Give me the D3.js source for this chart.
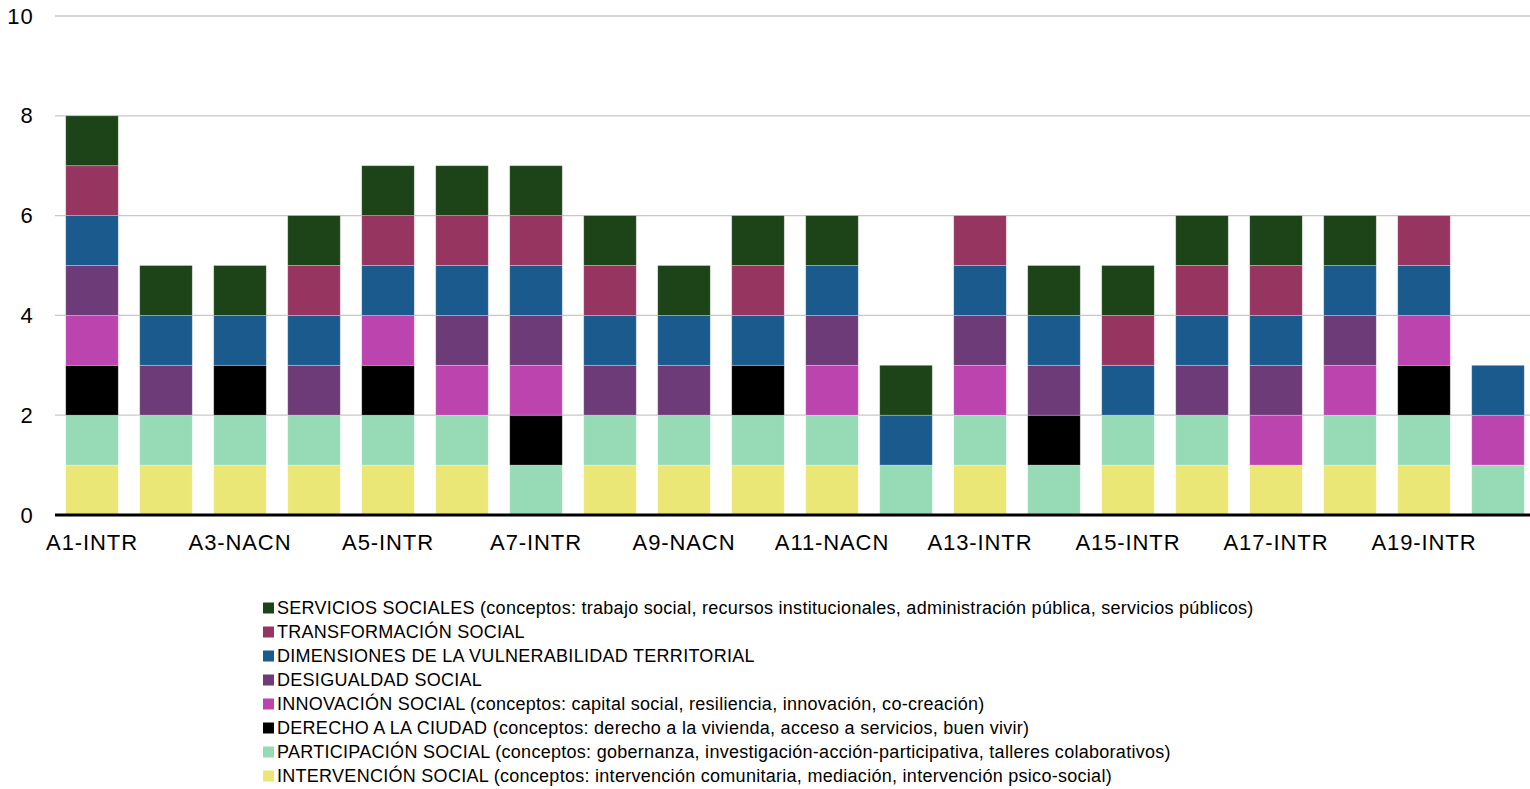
<!DOCTYPE html>
<html><head><meta charset="utf-8">
<script src="https://cdn.jsdelivr.net/npm/d3@7"></script>
<style>body{margin:0;background:#fff;}svg{display:block;font-family:"Liberation Sans",Arial,sans-serif;}</style>
</head><body><svg id="c" width="1530" height="789"></svg>
<script>
const categories = ["A1-INTR","A2-INTR","A3-NACN","A4-INTR","A5-INTR","A6-INTR","A7-INTR","A8-INTR","A9-NACN","A10-INTR","A11-NACN","A12-INTR","A13-INTR","A14-INTR","A15-INTR","A16-INTR","A17-INTR","A18-INTR","A19-INTR","A20-INTR"];
const seriesNames = [
  "INTERVENCIÓN SOCIAL (conceptos: intervención comunitaria, mediación, intervención psico-social)",
  "PARTICIPACIÓN SOCIAL (conceptos: gobernanza, investigación-acción-participativa, talleres colaborativos)",
  "DERECHO A LA CIUDAD (conceptos: derecho a la vivienda, acceso a servicios, buen vivir)",
  "INNOVACIÓN SOCIAL (conceptos: capital social, resiliencia, innovación, co-creación)",
  "DESIGUALDAD SOCIAL",
  "DIMENSIONES DE LA VULNERABILIDAD TERRITORIAL",
  "TRANSFORMACIÓN SOCIAL",
  "SERVICIOS SOCIALES (conceptos: trabajo social, recursos institucionales, administración pública, servicios públicos)"
];
const colors = ["#ebe776","#96dbb5","#000000","#bc44af","#6d3b78","#1b5a8c","#963660","#1c4418"];
const intervencion   = [1,1,1,1,1,1,0,1,1,1,1,0,1,0,1,1,1,1,1,0];
const participacion  = [1,1,1,1,1,1,1,1,1,1,1,1,1,1,1,1,0,1,1,1];
const derecho        = [1,0,1,0,1,0,1,0,0,1,0,0,0,1,0,0,0,0,1,0];
const innovacion     = [1,0,0,0,1,1,1,0,0,0,1,0,1,0,0,0,1,1,1,1];
const desigualdad    = [1,1,0,1,0,1,1,1,1,0,1,0,1,1,0,1,1,1,0,0];
const dimensiones    = [1,1,1,1,1,1,1,1,1,1,1,1,1,1,1,1,1,1,1,1];
const transformacion = [1,0,0,1,1,1,1,1,0,1,0,0,1,0,1,1,1,0,1,0];
const servicios      = [1,1,1,1,1,1,1,1,1,1,1,1,0,1,1,1,1,1,0,0];
const seriesValues = [intervencion,participacion,derecho,innovacion,desigualdad,dimensiones,transformacion,servicios];
const yTicks = [0,2,4,6,8,10];

const svg = d3.select("#c");
const x = d3.scaleBand().domain(categories).range([55,1535]).paddingInner(0.29).paddingOuter(0.145);
const y = d3.scaleLinear().domain([0,10]).range([515,16]);

const table = categories.map((c,i)=>{const o={cat:c}; seriesNames.forEach((s,j)=>o[s]=seriesValues[j][i]); return o;});
const stacked = d3.stack().keys(seriesNames)(table);

// grid
svg.append("g").selectAll("line").data(yTicks.filter(d=>d>0)).join("line")
  .attr("x1",55).attr("x2",1530).attr("y1",d=>y(d)).attr("y2",d=>y(d))
  .attr("stroke","#c8c8c8").attr("stroke-width",1.3);

// bars
svg.append("g").selectAll("g").data(stacked).join("g")
  .attr("fill",(d,i)=>colors[i])
  .selectAll("rect").data(d=>d.filter(p=>p[1]-p[0]>0)).join("rect")
  .attr("x",d=>x(d.data.cat)).attr("width",x.bandwidth())
  .attr("y",d=>y(d[1])).attr("height",d=>y(d[0])-y(d[1]))
  .attr("stroke","rgba(255,255,255,0.35)").attr("stroke-width",0.8);

// baseline
svg.append("line").attr("x1",55).attr("x2",1530).attr("y1",y(0)).attr("y2",y(0))
  .attr("stroke","#000").attr("stroke-width",3);

// y axis
const ya = svg.append("g").attr("transform","translate(34,0)")
  .call(d3.axisLeft(y).tickValues(yTicks).tickSize(0).tickPadding(0));
ya.select(".domain").remove();
ya.selectAll("text").attr("font-size",22).attr("letter-spacing","1.2px").attr("fill","#000").attr("font-family","Liberation Sans, Arial, sans-serif");

// x axis
const xa = svg.append("g").attr("transform","translate(0,"+(y(0)+19)+")")
  .call(d3.axisBottom(x).tickSize(0).tickPadding(0).tickFormat((d,i)=>i%2===0?d:""));
xa.select(".domain").remove();
xa.selectAll("text").attr("font-size",22).attr("letter-spacing","0.9px").attr("fill","#000").attr("font-family","Liberation Sans, Arial, sans-serif");

// legend
const legendOrder = seriesNames.map((s,i)=>i).reverse();
const lg = svg.append("g").selectAll("g").data(legendOrder).join("g")
  .attr("transform",(d,k)=>"translate(263,"+(608+k*24)+")");
lg.append("rect").attr("x",0).attr("y",-5.5).attr("width",11).attr("height",11).attr("fill",d=>colors[d]);
lg.append("text").attr("x",14).attr("y",0).attr("dy","0.35em").attr("font-size",18).attr("letter-spacing","0.28px").attr("fill","#000")
  .text(d=>seriesNames[d]);
</script></body></html>
